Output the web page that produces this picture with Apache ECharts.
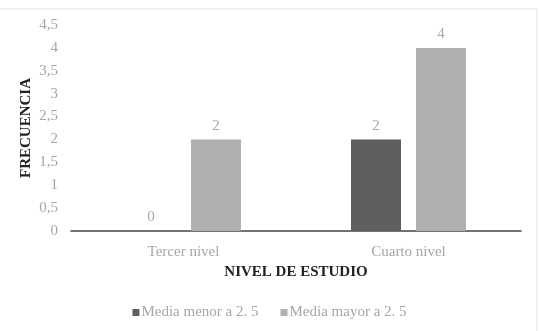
<!DOCTYPE html>
<html>
<head>
<meta charset="utf-8">
<script src="https://cdn.jsdelivr.net/npm/echarts@6/dist/echarts.min.js"></script>
<style>
  html, body { margin: 0; padding: 0; background: #fff; }
  #chart { width: 539px; height: 331px; }
</style>
</head>
<body>
<div id="chart"></div>
<script>
// niveles y frecuencias
const categorias = ['Tercer nivel', 'Cuarto nivel'];
const mediaMenor = [0, 2];
const mediaMayor = [2, 4];
const nombresSeries = ['Media menor a 2. 5', 'Media mayor a 2. 5'];

const chart = echarts.init(document.getElementById('chart'));
const serif = '"Liberation Serif", "DejaVu Serif", serif';
const gris = '#a6a6a6';

const etiqueta = {
  show: true,
  position: 'top',
  distance: 6,
  color: gris,
  fontFamily: serif,
  fontSize: 15
};

chart.setOption({
  animation: false,
  backgroundColor: '#fff',
  grid: { left: 71, right: 18, top: 25, bottom: 100 },
  graphic: [
    { type: 'line', shape: { x1: 0, y1: 9, x2: 537, y2: 9 }, style: { stroke: '#e3e3e3', lineWidth: 1 } },
    { type: 'line', shape: { x1: 537, y1: 9, x2: 537, y2: 331 }, style: { stroke: '#e3e3e3', lineWidth: 1 } }
  ],
  legend: {
    data: nombresSeries,
    bottom: 6,
    left: 'center',
    itemWidth: 7,
    itemHeight: 7,
    itemGap: 22,
    icon: 'rect',
    textStyle: { color: gris, fontFamily: serif, fontSize: 15, padding: [0, 0, 0, -3] }
  },
  xAxis: {
    type: 'category',
    data: categorias,
    name: 'NIVEL DE ESTUDIO',
    nameLocation: 'middle',
    nameGap: 34,
    nameTextStyle: { color: '#222', fontFamily: serif, fontWeight: 'bold', fontSize: 15 },
    axisLine: { lineStyle: { color: '#444', width: 1.5 } },
    axisTick: { show: false },
    axisLabel: { color: gris, fontFamily: serif, fontSize: 15, margin: 14 }
  },
  yAxis: {
    type: 'value',
    min: 0,
    max: 4.5,
    interval: 0.5,
    name: 'FRECUENCIA',
    nameLocation: 'middle',
    nameGap: 37,
    nameMoveOverlap: false,
    nameRotate: 90,
    nameTextStyle: { color: '#222', fontFamily: serif, fontWeight: 'bold', fontSize: 15 },
    axisLine: { show: false },
    axisTick: { show: false },
    splitLine: { show: false },
    axisLabel: {
      color: gris,
      fontFamily: serif,
      fontSize: 15,
      margin: 13,
      formatter: v => String(v).replace('.', ',')
    }
  },
  series: [
    {
      name: nombresSeries[0],
      type: 'bar',
      data: mediaMenor,
      barWidth: 50,
      barGap: '30%',
      itemStyle: { color: '#5f5f5f' },
      label: etiqueta
    },
    {
      name: nombresSeries[1],
      type: 'bar',
      data: mediaMayor,
      barWidth: 50,
      itemStyle: { color: '#b0b0b0' },
      label: etiqueta
    }
  ]
});
</script>
</body>
</html>
